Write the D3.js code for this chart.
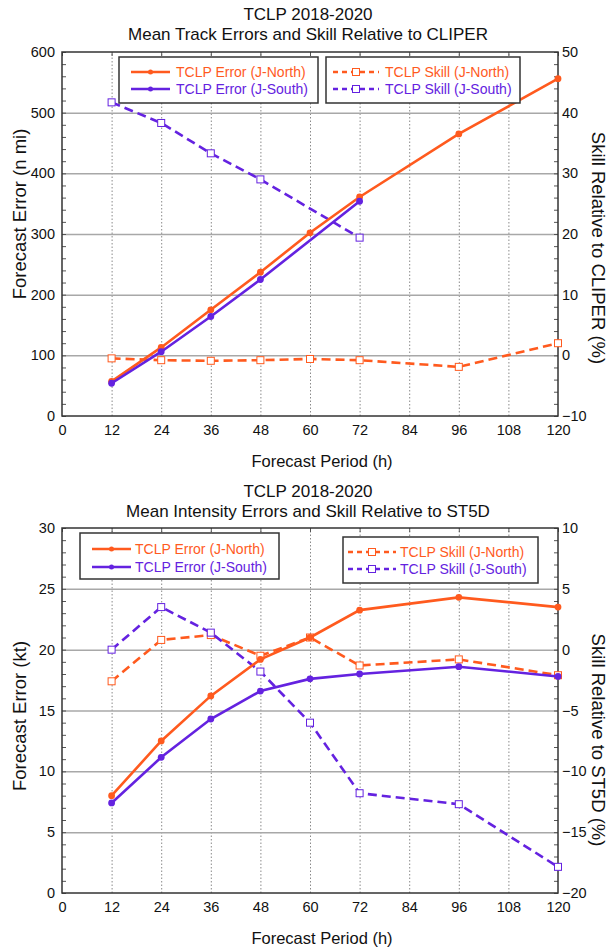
<!DOCTYPE html>
<html>
<head>
<meta charset="utf-8">
<script src="https://cdn.jsdelivr.net/npm/d3@7"></script>
<style>
	body { margin: 0; background: #fff; }
	svg text { font-family: "Liberation Sans", Arial, Helvetica, sans-serif; fill: #111; }
	.grid line { stroke: #a8a8a8; stroke-width: 1.5; }
	.vgrid line { stroke: #8a8a8a; stroke-width: 1; stroke-dasharray: 1.5,2; }
	.minor line { stroke: #555; stroke-width: 1; }
	.axis text { font-size: 14.5px; }
</style>
</head>
<body>
<div id="chart"></div>
<script>

/* forecast periods (h) */
var hours = [12, 24, 36, 48, 60, 72, 96, 120];
var hoursSouthTrack = [12, 24, 36, 48, 72];
var xTicks = [0, 12, 24, 36, 48, 60, 72, 84, 96, 108, 120];

/* track panel */
var trackErrNorth = [57, 113, 175, 237, 302, 361, 465, 556];
var trackErrSouth = [54, 106, 164, 225, 354];
var trackSkillNorth = [-0.5, -0.8, -0.9, -0.8, -0.6, -0.8, -1.9, 2.0];
var trackSkillSouth = [41.7, 38.3, 33.3, 29.0, 19.4];
var trackLeftTicks = [0, 100, 200, 300, 400, 500, 600];
var trackRightTicks = [-10, 0, 10, 20, 30, 40, 50];

/* intensity panel */
var intErrNorth = [8.0, 12.5, 16.2, 19.2, 21.0, 23.25, 24.3, 23.5];
var intErrSouth = [7.4, 11.15, 14.3, 16.6, 17.6, 18.0, 18.6, 17.8];
var intSkillNorth = [-2.6, 0.8, 1.2, -0.5, 1.0, -1.3, -0.8, -2.1];
var intSkillSouth = [0, 3.5, 1.4, -1.8, -6.0, -11.8, -12.7, -17.85];
var intLeftTicks = [0, 5, 10, 15, 20, 25, 30];
var intRightTicks = [-20, -15, -10, -5, 0, 5, 10];

var legendErr = ["TCLP Error (J-North)", "TCLP Error (J-South)"];
var legendSkill = ["TCLP Skill (J-North)", "TCLP Skill (J-South)"];

var orange = "#ff5a1e";
var purple = "#6422e0";

var svg = d3.select("#chart").append("svg").attr("width", 608).attr("height", 947);

function zip(xs, ys) {
	return xs.map((h, i) => ({h: h, v: ys[i]}));
}

class errorSkillPanel
{
	constructor(opts)
	{
		this.svg = opts.svg;
		this.top = opts.top;
		this.bottom = opts.bottom;
		this.left = 62;
		this.right = 558;
		this.opts = opts;
		this.draw();
	}

	draw() {
		this.createScales();
		this.addGrid();
		this.addAxes();
		this.addSeries();
		this.addLegends();
		this.addLabels();
	}

	createScales() {
		var o = this.opts;
		this.xScale = d3.scaleLinear().domain([0, 120]).range([this.left, this.right]);
		this.yLeft = d3.scaleLinear().domain(d3.extent(o.leftTicks)).range([this.bottom, this.top]);
		this.yRight = d3.scaleLinear().domain(d3.extent(o.rightTicks)).range([this.bottom, this.top]);
	}

	addGrid() {
		var o = this.opts, w = this.right - this.left, h = this.bottom - this.top;

		this.svg.append("g")
			.attr("class", "vgrid")
			.attr("transform", "translate(0," + this.bottom + ")")
			.call(d3.axisBottom(this.xScale).tickValues(xTicks.slice(1, -1)).tickSize(-h).tickFormat(""))
			.call(g => g.select(".domain").remove());

		this.svg.append("g")
			.attr("class", "grid")
			.attr("transform", "translate(" + this.left + ",0)")
			.call(d3.axisLeft(this.yLeft).tickValues(o.leftTicks.slice(1, -1)).tickSize(-w).tickFormat(""))
			.call(g => g.select(".domain").remove());

		/* minor ticks, inside both sides */
		var minor = d3.range(o.leftTicks[0], o.leftTicks[o.leftTicks.length - 1] + 1e-9, o.minorStep);
		this.svg.append("g")
			.attr("class", "minor")
			.attr("transform", "translate(" + this.left + ",0)")
			.call(d3.axisLeft(this.yLeft).tickValues(minor).tickSize(-4).tickFormat(""))
			.call(g => g.select(".domain").remove());
		this.svg.append("g")
			.attr("class", "minor")
			.attr("transform", "translate(" + this.right + ",0)")
			.call(d3.axisRight(this.yLeft).tickValues(minor).tickSize(-4).tickFormat(""))
			.call(g => g.select(".domain").remove());
		this.svg.append("g")
			.attr("class", "minor")
			.attr("transform", "translate(0," + this.top + ")")
			.call(d3.axisTop(this.xScale).tickValues(xTicks).tickSize(-4).tickFormat(""))
			.call(g => g.select(".domain").remove());

		this.svg.append("rect")
			.attr("x", this.left).attr("y", this.top)
			.attr("width", w).attr("height", h)
			.attr("fill", "none").attr("stroke", "#333").attr("stroke-width", 1.5);
	}

	addAxes() {
		var o = this.opts;

		this.svg.append("g")
			.attr("class", "axis")
			.attr("transform", "translate(0," + this.bottom + ")")
			.call(d3.axisBottom(this.xScale).tickValues(xTicks).tickSize(0).tickPadding(9))
			.call(g => g.select(".domain").remove());

		this.svg.append("g")
			.attr("class", "axis")
			.attr("transform", "translate(" + this.left + ",0)")
			.call(d3.axisLeft(this.yLeft).tickValues(o.leftTicks).tickSize(0).tickPadding(7))
			.call(g => g.select(".domain").remove());

		this.svg.append("g")
			.attr("class", "axis")
			.attr("transform", "translate(" + this.right + ",0)")
			.call(d3.axisRight(this.yRight).tickValues(o.rightTicks).tickSize(0).tickPadding(4))
			.call(g => g.select(".domain").remove());
	}

	addSeries() {
		var o = this.opts;
		var x = this.xScale;

		o.series.forEach(s => {
			var y = s.axis == "left" ? this.yLeft : this.yRight;
			var pts = zip(s.hours, s.values);
			var line = d3.line().x(d => x(d.h)).y(d => y(d.v));

			this.svg.append("path")
				.datum(pts)
				.attr("d", line)
				.attr("fill", "none")
				.attr("stroke", s.color)
				.attr("stroke-width", 2.6)
				.attr("stroke-dasharray", s.dashed ? "9,5" : null);

			if (s.dashed) {
				this.svg.append("g").selectAll("rect").data(pts).enter()
					.append("rect")
					.attr("x", d => x(d.h) - 3.5)
					.attr("y", d => y(d.v) - 3.5)
					.attr("width", 7).attr("height", 7)
					.attr("fill", "#fff")
					.attr("stroke", s.color)
					.attr("stroke-width", 1);
			} else {
				this.svg.append("g").selectAll("circle").data(pts).enter()
					.append("circle")
					.attr("cx", d => x(d.h))
					.attr("cy", d => y(d.v))
					.attr("r", 3.4)
					.attr("fill", s.color);
			}
		});
	}

	addLegends() {
		var o = this.opts;
		o.legends.forEach(lg => {
			var g = this.svg.append("g").attr("transform", "translate(" + lg.x + "," + lg.y + ")");
			g.append("rect")
				.attr("width", lg.w).attr("height", lg.h)
				.attr("fill", "#fff").attr("stroke", "#333").attr("stroke-width", 1.5);

			lg.labels.forEach((t, i) => {
				var cy = lg.rowY[i];
				var col = i == 0 ? orange : purple;
				g.append("line")
					.attr("x1", lg.sx1).attr("x2", lg.sx2)
					.attr("y1", cy).attr("y2", cy)
					.attr("stroke", col).attr("stroke-width", 2.6)
					.attr("stroke-dasharray", lg.dashed ? "5,4" : null);
				var mx = (lg.sx1 + lg.sx2) / 2;
				if (lg.dashed) {
					g.append("rect")
						.attr("x", mx - 3.5).attr("y", cy - 3.5)
						.attr("width", 7).attr("height", 7)
						.attr("fill", "#fff").attr("stroke", col).attr("stroke-width", 1);
				} else {
					g.append("circle").attr("cx", mx).attr("cy", cy).attr("r", 2.5).attr("fill", col);
				}
				g.append("text")
					.attr("x", lg.tx).attr("y", cy)
					.attr("dy", "0.35em")
					.style("font-size", "14px")
					.style("fill", col)
					.text(t);
			});
		});
	}

	addLabels() {
		var o = this.opts;

		this.svg.append("text")
			.attr("x", 308).attr("y", o.titleY)
			.style("text-anchor", "middle").style("font-size", "17px")
			.text(o.title[0]);
		this.svg.append("text")
			.attr("x", 308).attr("y", o.titleY + 20)
			.style("text-anchor", "middle").style("font-size", "17px")
			.text(o.title[1]);

		this.svg.append("text")
			.attr("x", 322).attr("y", this.bottom + 51)
			.style("text-anchor", "middle").style("font-size", "16.5px")
			.text("Forecast Period (h)");

		this.svg.append("text")
			.attr("transform", "translate(20," + o.leftLabelY + ") rotate(-90)")
			.attr("dy", "0.35em")
			.style("text-anchor", "middle").style("font-size", "18.5px")
			.text(o.leftLabel);

		this.svg.append("text")
			.attr("transform", "translate(598," + o.rightLabelY + ") rotate(90)")
			.attr("dy", "0.35em")
			.style("text-anchor", "middle").style("font-size", "18.5px")
			.text(o.rightLabel);
	}
}

new errorSkillPanel({
	svg: svg, top: 52, bottom: 416,
	titleY: 20,
	title: ["TCLP 2018-2020", "Mean Track Errors and Skill Relative to CLIPER"],
	leftTicks: trackLeftTicks, rightTicks: trackRightTicks, minorStep: 20,
	leftLabel: "Forecast Error (n mi)", leftLabelY: 214,
	rightLabel: "Skill Relative to CLIPER (%)", rightLabelY: 248,
	series: [
		{hours: hours, values: trackSkillNorth, color: orange, dashed: true, axis: "right"},
		{hours: hoursSouthTrack, values: trackSkillSouth, color: purple, dashed: true, axis: "right"},
		{hours: hours, values: trackErrNorth, color: orange, dashed: false, axis: "left"},
		{hours: hoursSouthTrack, values: trackErrSouth, color: purple, dashed: false, axis: "left"}
	],
	legends: [
		{x: 119, y: 57, w: 199, h: 46, sx1: 12, sx2: 51, tx: 57, rowY: [15, 32], labels: legendErr, dashed: false},
		{x: 326, y: 57, w: 194, h: 46, sx1: 7, sx2: 53, tx: 59, rowY: [15, 32], labels: legendSkill, dashed: true}
	]
});

new errorSkillPanel({
	svg: svg, top: 528, bottom: 893,
	titleY: 497,
	title: ["TCLP 2018-2020", "Mean Intensity Errors and Skill Relative to ST5D"],
	leftTicks: intLeftTicks, rightTicks: intRightTicks, minorStep: 1,
	leftLabel: "Forecast Error (kt)", leftLabelY: 716,
	rightLabel: "Skill Relative to ST5D (%)", rightLabelY: 740,
	series: [
		{hours: hours, values: intSkillNorth, color: orange, dashed: true, axis: "right"},
		{hours: hours, values: intSkillSouth, color: purple, dashed: true, axis: "right"},
		{hours: hours, values: intErrNorth, color: orange, dashed: false, axis: "left"},
		{hours: hours, values: intErrSouth, color: purple, dashed: false, axis: "left"}
	],
	legends: [
		{x: 80, y: 533, w: 199, h: 46, sx1: 12, sx2: 51, tx: 55, rowY: [16, 34], labels: legendErr, dashed: false},
		{x: 343, y: 537, w: 195, h: 46, sx1: 5, sx2: 53, tx: 57, rowY: [15, 32], labels: legendSkill, dashed: true}
	]
});

</script>
</body>
</html>
